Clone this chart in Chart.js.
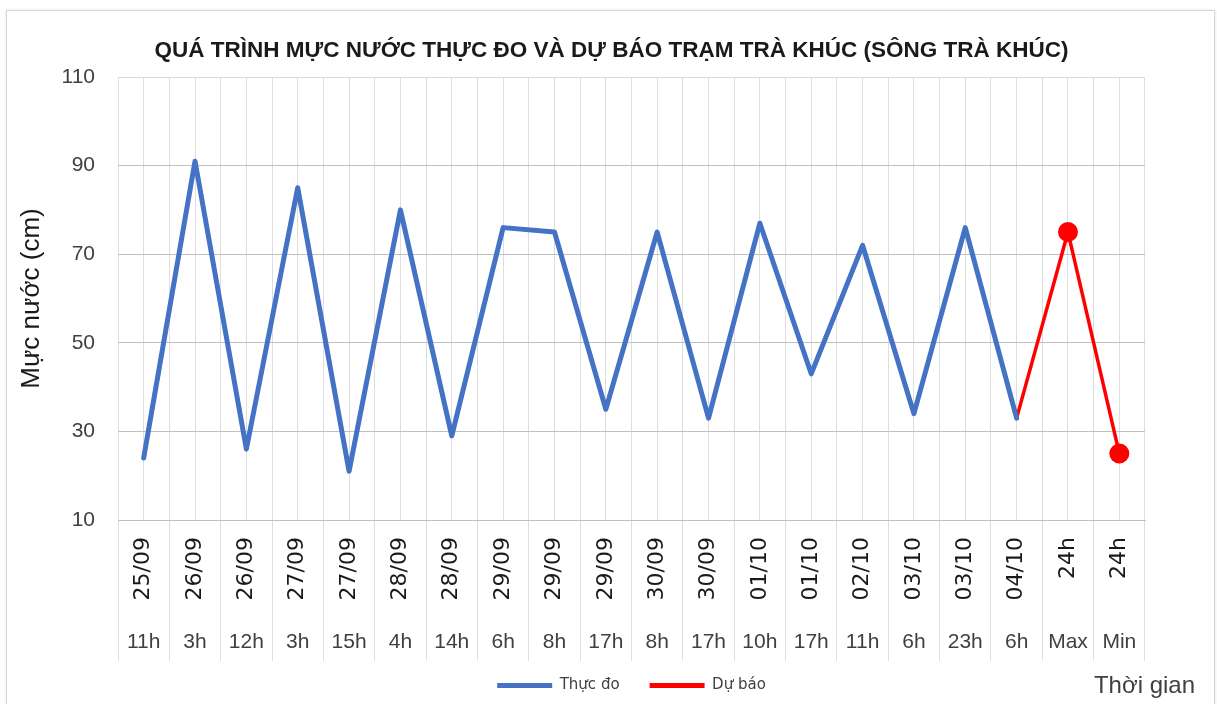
<!DOCTYPE html>
<html>
<head>
<meta charset="utf-8">
<script src="https://cdn.jsdelivr.net/npm/chart.js@4.4.1/dist/chart.umd.min.js"></script>
<style>
  html, body { margin: 0; padding: 0; background: #ffffff; }
  #frame { position: absolute; left: 6px; top: 10px; width: 1207px; height: 720px;
           border: 1px solid #d6d6d6; box-shadow: 0 0 3px rgba(0,0,0,0.12); background: #fff; }
  #c { position: absolute; left: 0; top: 0; }
</style>
</head>
<body>
<div id="frame"></div>
<canvas id="c" width="1217" height="704"></canvas>
<script>
// ---- data ----
const dateLabels = ['25/09','26/09','26/09','27/09','27/09','28/09','28/09','29/09','29/09','29/09',
                    '30/09','30/09','01/10','01/10','02/10','03/10','03/10','04/10','24h','24h'];
const hourLabels = ['11h','3h','12h','3h','15h','4h','14h','6h','8h','17h',
                    '8h','17h','10h','17h','11h','6h','23h','6h','Max','Min'];
const observed = [24, 91, 26, 85, 21, 80, 29, 76, 75, 35, 75, 33, 77, 43, 72, 34, 76, 33, null, null];
const forecast = [null, null, null, null, null, null, null, null, null, null,
                  null, null, null, null, null, null, null, 33, 75, 25];
const forecastPointRadius = [0,0,0,0,0,0,0,0,0,0,0,0,0,0,0,0,0,0,10,10];
const yMin = 10, yMax = 110, yStep = 20;
const seriesNames = ['Thực đo', 'Dự báo'];
const titleText = 'QUÁ TRÌNH MỰC NƯỚC THỰC ĐO VÀ DỰ BÁO TRẠM TRÀ KHÚC (SÔNG TRÀ KHÚC)';
const yTitle = 'Mực nước (cm)';
const xTitle = 'Thời gian';

Chart.defaults.font.family = '"Liberation Sans", Arial, sans-serif';

const vGrid = '#dedede';

new Chart(document.getElementById('c'), {
  type: 'line',
  data: {
    labels: dateLabels,
    datasets: [
      { label: seriesNames[0], data: observed, borderColor: '#4472C4', backgroundColor: '#4472C4',
        borderWidth: 5, pointRadius: 0, tension: 0, borderJoinStyle: 'round', borderCapStyle: 'round',
        xAxisID: 'x', yAxisID: 'y' },
      { label: seriesNames[1], data: forecast, borderColor: '#FF0000', backgroundColor: '#FF0000',
        borderWidth: 3.5, pointRadius: forecastPointRadius, pointBackgroundColor: '#FF0000',
        pointBorderWidth: 0, tension: 0, borderJoinStyle: 'round', borderCapStyle: 'round',
        xAxisID: 'x', yAxisID: 'y' }
    ]
  },
  options: {
    responsive: false,
    animation: false,
    events: [],
    layout: { padding: { left: 28, right: 22, top: 0, bottom: 1 } },
    scales: {
      x: {
        type: 'category', labels: dateLabels, position: 'bottom', weight: 0, offset: true,
        grid: { offset: true, color: vGrid, tickColor: vGrid, lineWidth: 1, tickLength: 141, drawTicks: true },
        border: { display: true, color: '#c0c0c0' },
        ticks: { autoSkip: false, minRotation: 90, maxRotation: 90, padding: -124,
                 color: '#1a1a1a', font: { family: '"DejaVu Sans", sans-serif', size: 22 } },
        afterFit: (s) => { s.height = 83; }
      },
      xh: {
        type: 'category', labels: hourLabels, position: 'bottom', weight: 1, offset: true,
        grid: { drawOnChartArea: false, drawTicks: false },
        border: { display: false },
        ticks: { autoSkip: false, maxRotation: 0, minRotation: 0, padding: 27,
                 color: '#404040', font: { size: 21 } },
        afterFit: (s) => { s.height = 45; }
      },
      xc: {
        type: 'category', labels: dateLabels, position: 'top', offset: true,
        grid: { offset: false, color: vGrid, lineWidth: 1, drawTicks: false },
        border: { display: false },
        ticks: { display: false }
      },
      y: {
        position: 'left', min: yMin, max: yMax,
        grid: { drawTicks: false, color: (ctx) => ctx.tick && ctx.tick.value === yMax ? '#d9d9d9' : '#c0c0c0' },
        border: { display: false },
        ticks: { stepSize: yStep, padding: 23, color: '#404040', font: { size: 21 } },
        title: { display: true, text: yTitle, color: '#1a1a1a',
                 font: { size: 26, lineHeight: 1 }, padding: { top: -9, bottom: 0 } },
        afterFit: (s) => { s.width = 90; }
      },
      yr: {
        position: 'right', min: yMin, max: yMax,
        grid: { drawOnChartArea: false, drawTicks: false },
        border: { display: false },
        ticks: { display: false },
        afterFit: (s) => { s.width = 50; }
      }
    },
    plugins: {
      title: { display: true, text: titleText, color: '#1a1a1a',
               font: { size: 22.5, weight: 'bold', lineHeight: 1.2 },
               padding: { top: 37, bottom: 13 } },
      subtitle: { display: true, text: xTitle, position: 'bottom', align: 'end', color: '#404040',
                  font: { size: 24, lineHeight: 1 }, padding: { top: -29, bottom: 5 } },
      legend: {
        position: 'bottom', fullSize: false,
        labels: {
          boxWidth: 55, boxHeight: 5, padding: 30, color: '#404040',
          font: { family: '"DejaVu Sans", sans-serif', size: 15 },
          generateLabels: (chart) => chart.data.datasets.map((ds, i) => ({
            text: ds.label, fillStyle: ds.borderColor, strokeStyle: ds.borderColor,
            lineWidth: 0, hidden: false, datasetIndex: i, fontColor: '#404040'
          }))
        }
      },
      tooltip: { enabled: false }
    }
  }
});
</script>
</body>
</html>
